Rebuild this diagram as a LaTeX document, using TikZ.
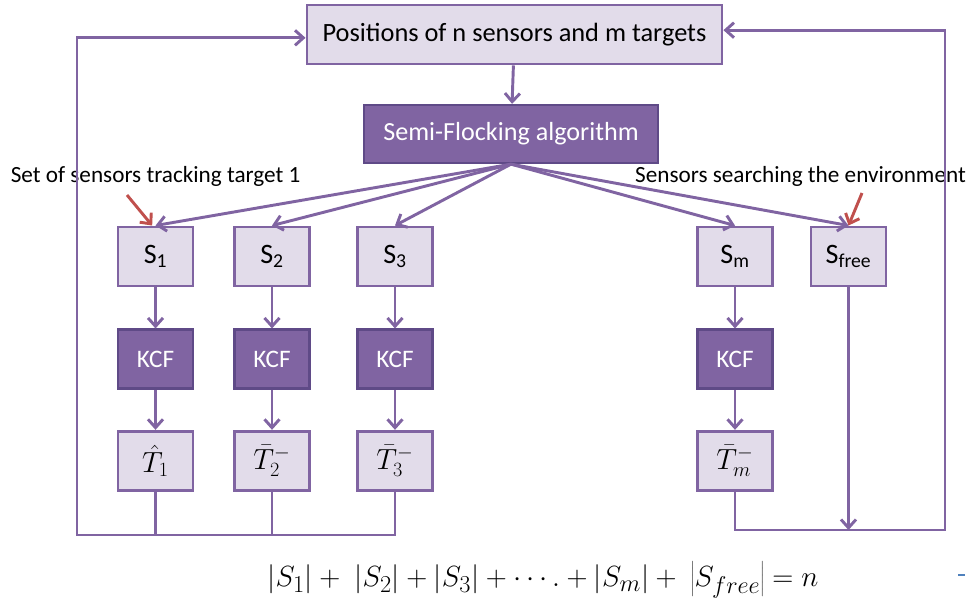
\documentclass[tikz,border=0pt]{standalone}
\usepackage{fontspec}
\setmainfont{Carlito}
\usetikzlibrary{arrows.meta,positioning}
\definecolor{purpline}{HTML}{8064A2}
\definecolor{darkpurp}{HTML}{5F4A87}
\definecolor{lilac}{HTML}{E2DCEA}
\definecolor{arrowred}{HTML}{C0504D}
\definecolor{dashblue}{HTML}{4F81BD}
\tikzset{
  lightbox/.style={rectangle,draw=purpline,line width=2.5pt,fill=lilac,align=center,inner sep=0pt},
  darkbox/.style={rectangle,draw=darkpurp,line width=2pt,fill=purpline,text=white,align=center,inner sep=0pt},
  sbox/.style={lightbox,minimum width=2.25cm,minimum height=1.77cm,font=\fontsize{24}{28}\selectfont},
  kcfbox/.style={darkbox,minimum width=2.25cm,minimum height=1.77cm,font=\fontsize{21.5}{24}\selectfont},
  link/.style={purpline,line width=2.5pt},
  arrow/.style={-{Straight Barb[length=2.5mm,width=4.5mm]},purpline,line width=2.5pt},
  redarrow/.style={-{Straight Barb[length=2.5mm,width=4.5mm]},arrowred,line width=2.5pt},
  note/.style={font=\fontsize{19.8}{23}\selectfont,anchor=west}
}

\begin{document}
\begin{tikzpicture}[node distance=1.23cm]
    \useasboundingbox (0,0) rectangle (29.07,-18.12);
    \node[lightbox,minimum width=12.45cm,minimum height=1.77cm,font=\fontsize{22.5}{26}\selectfont] (top) at (15.435,-1.035) {Positions of n sensors and m targets};
    \node[darkbox,minimum width=8.82cm,minimum height=1.74cm,font=\fontsize{22.3}{26}\selectfont] (semi) at (15.33,-4.02) {Semi-Flocking algorithm};
    % sensor sets
    \node[sbox] (s1) at (4.665,-7.695) {S\textsubscript{1}};
    \node[sbox] (s2) at (8.16,-7.695) {S\textsubscript{2}};
    \node[sbox] (s3) at (11.85,-7.695) {S\textsubscript{3}};
    \node[sbox] (sm) at (22.05,-7.695) {S\textsubscript{m}};
    \node[sbox] (sfree) at (25.455,-7.695) {S\textsubscript{free}};
    % filters
    \node[kcfbox,below=of s1] (k1) {KCF};
    \node[kcfbox,below=of s2] (k2) {KCF};
    \node[kcfbox,below=of s3] (k3) {KCF};
    \node[kcfbox,below=of sm] (km) {KCF};
    % estimates
    \node[sbox,below=1.2cm of k1] (t1) {$\hat{T}_1$};
    \node[sbox,below=1.2cm of k2] (t2) {$\bar{T}_2^{-}$};
    \node[sbox,below=1.2cm of k3] (t3) {$\bar{T}_3^{-}$};
    \node[sbox,below=1.2cm of km] (tm) {$\bar{T}_m^{-}$};
    % notes
    \node[note] (trk) at (0.2,-5.28) {Set of sensors tracking target 1};
    \node[note] (srch) at (18.93,-5.28) {Sensors searching the environment};
    \coordinate (trkend) at (3.81,-5.85);
    \coordinate (srchend) at (25.86,-5.79);
    \coordinate (lbus) at (2.31,-16.05);
    \coordinate (rbus) at (28.35,-15.9);
    \draw[arrow] (top) -- (semi);
    \foreach \s in {s1,s2,s3,sm,sfree}
      \draw[arrow] (semi.south) -- (\s.north);
    \foreach \s/\k/\t in {s1/k1/t1,s2/k2/t2,s3/k3/t3,sm/km/tm}{
      \draw[arrow] (\s) -- (\k);
      \draw[arrow] (\k) -- (\t);
    }
    \draw[redarrow] (trkend) -- ([xshift=-0.1cm]s1.north);
    \draw[redarrow] (srchend) -- (sfree.north);
    % feedback
    \draw[link] (t1.south) -- (t1.south |- lbus);
    \draw[link] (t2.south) -- (t2.south |- lbus);
    \draw[arrow] (t3.south) |- (lbus) |- ([yshift=-0.1cm]top.west);
    \draw[arrow] (tm.south) |- (rbus) |- ([yshift=0.13cm]top.east);
    \draw[arrow] (sfree.south) -- (sfree.south |- rbus);
    \node[font=\fontsize{28.5}{32}\selectfont] (sum) at (16.29,-17.4)
      {$|S_1| +\ |S_2| + |S_3| + \cdots. + |S_m| +\ \left|S_{free}\right| = n$};
    \draw[dashblue,line width=1pt] (28.74,-17.25) -- (28.95,-17.25);
\end{tikzpicture}
\end{document}
